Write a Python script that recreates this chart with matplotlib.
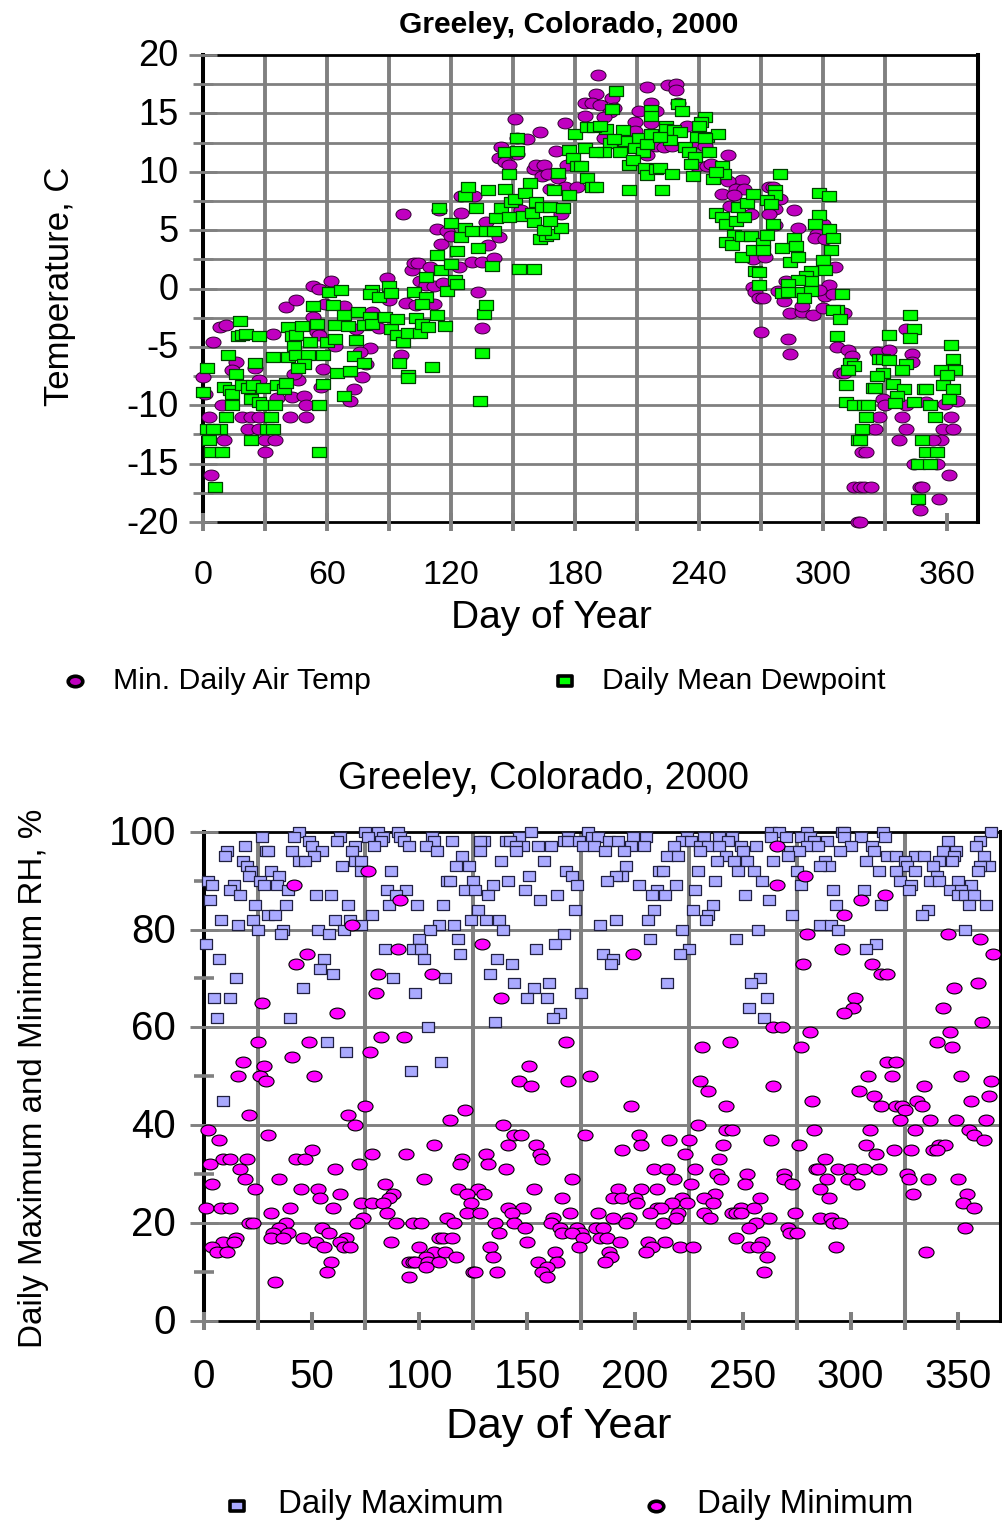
import numpy as np
import matplotlib
matplotlib.use('Agg')
import matplotlib.pyplot as plt
from matplotlib.lines import Line2D
from matplotlib.path import Path
from matplotlib.transforms import Affine2D, ScaledTranslation

plt.rcParams['font.family'] = ['Liberation Sans', 'DejaVu Sans']
plt.rcParams['axes.unicode_minus'] = False

# (day, deg C)
min_air = [(3.7,-16),(0,-7.6),(1,-9),(3,-11),(10,-13),(5,-4.6),(8,-3.3),(11,-3.1),(16,-6.3),(14,-7),(25,-6.8),
    (27,-7.8),(9,-10),(19,-11),(23,-11),(27,-11),(22,-12),(27,-12),(30,-13),(35,-13),(30,-14),(42,-11),(50,-11),
    (36,-9.4),(43,-9.3),(49,-9.2),(50,-10),(34,-3.9),(46,-7.8),(44,-7.3),(40,-1.6),(45,-1),(53,0.2),(56,0),(62,0.6),
    (59,-1.3),(68,-1.5),(53,-2.4),(55,-3.7),(56,-4),(64,-4.9),(58,-6.9),(81,-5.1),(76,-5.4),(79,-6.5),(77,-7.6),
    (73,-8.6),(71,-9.6),(57,-8.4),(96,-5.7),(89,0.9),(90,-1),(98,-1.2),(103,-1.4),(112,-1.3),(82,-2),(85,-3.4),
    (74,-3.5),(97,6.4),(101,1.6),(102,2.2),(104,2.2),(110,1.8),(105,0.6),(108,0.3),(112,0.2),(116,0.5),(124,1.8),
    (130,2.3),(135,2.3),(141,2.6),(138,3.7),(143,4.4),(137,5.7),(115,3.8),(113,5.1),(118,4.9),(120,4.5),(125,6.5),
    (125,7.9),(131,7.9),(133,-0.3),(135,-3.4),(114,6.7),(152,12.9),(157,12.8),(151,14.5),(163,13.4),(175,14.2),
    (144,12.1),(143,11.2),(152,11.5),(146,10.8),(148,10.6),(160,10.2),(161,10.6),(165,10.6),(164,9.6),(167,9.8),
    (172,9.5),(176,10.6),(171,11.8),(154,6.7),(173,6.4),(168,8.5),(175,8.7),(181,8.7),(185,15.9),(185,14.8),
    (191,18.3),(190,16.7),(188,15.9),(198,16.3),(192,15.7),(199,15.5),(197,15.1),(194,14.7),(215,17.3),(225,17.4),
    (229,17.5),(229,17),(217,15.9),(230,15.9),(211,15.2),(219,15.2),(209,14.3),(217,14.2),(209,13.5),(234,13.9),
    (194,12.9),(219,12.2),(223,12.1),(227,12.2),(215,11.4),(239,12.5),(243,12.2),(254,11.4),(239,10.5),(244,10.5),
    (246,10.7),(261,9.3),(251,9.6),(254,9.2),(258,8.5),(262,8.5),(251,8.1),(257,8),(255,7.1),(265,6.4),(274,8.7),
    (276,8.7),(279,7.7),(277,6.8),(274,6.4),(286,6.7),(277,5.4),(288,5.2),(297,4.7),(296,4.3),(300,5.5),(301,4.2),
    (266,2.5),(272,2.7),(306,1.8),(282,0.6),(278,-0.2),(266,0.1),(267,-0.3),(269,-0.8),(271,-0.8),(281,-1.1),
    (284,-2.1),(290,-2),(290,-1.5),(295,-2.3),(300,-1.7),(303,0.3),(301,-0.6),(305,-0.5),(298,-0.1),(310,-2.1),
    (270,-3.7),(283,-4.3),(284,-5.6),(307,-5),(312,-5.3),(314,-5.8),(308,-7.2),(310,-7.2),(326,-5.4),(332,-5.3),
    (343,-5.6),(343,-6.3),(340,-3.5),(329,-9.5),(330,-10),(340,-10),(350,-9.7),(359,-9.9),(365,-9.6),(327,-11),
    (338,-11),(362,-11),(325,-12),(340,-12),(358,-12),(363,-12),(337,-13),(357,-13),(353,-13),(319,-14),(321,-14),
    (344,-15),(355,-15),(361,-16),(315,-17),(318,-17),(320,-17),(323,-17),(347,-17),(348,-17),(356,-18),(347,-19),
    (317,-20),(318,-20)]

dewpoint = [(2,-6.8),(0,-8.9),(2,-12),(8,-12),(5,-12),(3,-13),(4,-14),(9,-14),(6,-17),(11,-11),(12,-5.7),(16,-7.3),
    (18,-2.8),(17,-4.1),(19,-4),(21,-3.9),(27,-4.1),(25,-6.4),(10,-8.4),(13,-8.7),(14,-9),(14,-10),(19,-8.3),
    (22,-8.5),(24,-8.3),(29,-8.5),(23,-9.5),(27,-9.7),(29,-10),(35,-10),(33,-11),(31,-12),(34,-12),(23,-13),(34,-5.9),
    (41,-5.9),(36,-8.3),(39,-8.6),(40,-8.1),(41,-3.3),(43,-4.1),(45,-4),(48,-3.2),(44,-4.9),(52,-4.6),(45,-5.7),
    (51,-5.7),(49,-6.5),(46,-6.8),(53,-1.5),(55,-3),(58,-5.7),(56,-10),(58,-8.2),(56,-14),(61,-0.3),(67,-0.1),
    (63,-1.4),(64,-3.1),(70,-3.2),(68,-2.3),(60,-4.6),(64,-4.3),(74,-4.4),(73,-5.8),(78,-6.4),(65,-7.2),(71,-7.1),
    (68,-9.2),(75,-2),(81,-2.4),(78,-3.1),(82,-3),(88,-2.4),(91,-3.5),(94,-2.6),(82,-0.1),(81,-0.5),(85,-0.7),
    (90,0.2),(91,-0.4),(102,-0.3),(108,-0.7),(106,-1.3),(108,1),(95,-6.4),(99,-7.4),(99,-7.7),(111,-6.7),(94,-4),
    (97,-4.6),(99,-3.8),(103,-2.5),(105,-3.8),(106,-3),(109,-3.3),(113,-2.3),(117,-3.2),(134,-9.6),(135,-5.5),
    (136,-2.2),(137,-1.4),(118,-0.2),(122,0.7),(123,0.4),(115,1.6),(120,2.1),(113,2.9),(114,6.9),(120,5.6),(127,5.2),
    (125,4.4),(130,4.9),(123,3.2),(133,3.5),(140,1.9),(137,4.9),(141,4.9),(132,6.9),(127,7.9),(128,8.7),(138,8.4),
    (146,8.5),(142,6),(144,6.9),(148,6.1),(149,7.4),(151,7.7),(155,6.2),(153,1.7),(160,1.7),(160,5.7),(159,6.5),
    (158,9),(156,8.2),(161,7.4),(164,7),(168,7),(174,6.9),(177,8),(170,8.4),(172,9.9),(152,12.9),(146,11.7),
    (152,11.8),(148,9.8),(163,4.2),(166,4.5),(169,4.7),(165,5),(173,5.2),(168,5.8),(180,13.2),(177,11.9),(179,11.2),
    (181,10.5),(183,10.5),(185,12),(186,13.8),(186,9.5),(188,8.7),(200,16.9),(198,15.4),(190,8.7),(195,13.7),
    (203,13.6),(189,13.8),(192,13.9),(211,12.9),(204,12.6),(197,12.5),(199,12.8),(194,11.7),(202,11.7),(190,11.7),
    (209,12),(213,11.7),(215,12.4),(217,13.2),(206,8.4),(222,8.4),(206,10.6),(208,11),(214,10.3),(215,9.7),(219,10.2),
    (221,10.3),(227,9.8),(237,9.6),(217,15.3),(217,14.8),(230,15.8),(232,15.2),(224,13.9),(224,13.7),(228,13.6),
    (231,13.4),(226,12.7),(221,13),(233,12.1),(235,11.7),(238,11.3),(236,10.7),(243,14.7),(241,14.3),(240,13.9),
    (239,13),(244,13),(249,13.2),(243,12.9),(245,11.7),(251,10.5),(252,9.8),(247,9.4),(248,10),(248,6.5),(251,6.1),
    (253,5.5),(258,5.8),(262,6.1),(259,7),(263,7.3),(266,8.1),(257,4.6),(253,4),(256,3.7),(261,2.7),(261,4.5),
    (265,4.5),(266,3.3),(271,3.9),(273,4.6),(271,3.3),(279,9.8),(277,8.4),(277,8),(273,7.6),(275,7.2),(276,5.5),
    (267,1.5),(269,1.4),(269,0.3),(280,3.5),(286,4.3),(287,3.6),(284,2.3),(288,2.7),(298,8.2),(303,7.9),(298,6.3),
    (296,5.5),(303,5.1),(305,4.3),(304,3.3),(300,2.4),(301,1.6),(294,1.5),(292,1.1),(294,0.6),(288,0.7),(283,0.4),
    (280,-0.4),(283,-0.3),(290,-0.3),(294,-0.2),(291,-0.8),(309,-0.5),(307,-1.8),(305,-1.8),(308,-2.6),(307,-4.1),
    (313,-6.4),(315,-6.6),(312,-7),(311,-8.3),(311,-9.7),(315,-10),(320,-10),(322,-10),(321,-11),(319,-12),(317,-13),
    (318,-13),(332,-4),(342,-2.3),(344,-3.5),(342,-4.2),(327,-6),(329,-6),(332,-6.1),(340,-6.5),(338,-7),(329,-7.2),
    (326,-7.5),(334,-8.2),(324,-8.5),(325,-8.5),(339,-8.6),(336,-9.2),(335,-9.8),(344,-9.7),(352,-10),(349,-8.6),
    (350,-8.6),(358,-8.3),(363,-8.6),(361,-9.5),(354,-11),(348,-13),(350,-14),(355,-14),(346,-15),(352,-15),(346,-18),
    (362,-4.8),(363,-6),(357,-7),(364,-7),(360,-7.4)]

# RH value -> days at that value, lower panel (RH was logged in whole percent)
rh_max = {100: [44,75,81,90,152,178,263,267,280,296,297,315,365],
    99: [27,42,63,76,83,91,106,146,169,180,183,199,205,224,232,239,245,263,270,277,281,297,305,316],
    98: [49,62,82,93,107,115,130,128,140,142,167,169,174,188,192,222,226,243,283,289,345,360],
    97: [19,50,70,79,95,103,148,145,155,161,176,181,198,204,218,230,234,239,249,256,280,285,300,310,358],
    96: [11,29,30,41,55,69,108,128,145,186,195,230,250,272,276,295,311,343,349],
    95: [10,51,120,215,220,242,271,317,321,330,334,348,362],
    94: [18,44,47,70,73,138,158,238,246,252,264,288,307,325,341,347],
    93: [20,64,117,123,196,290,286,326,338,364,360],
    92: [22,31,73,87,168,211,213,229,248,255,275,313,321,330,359],
    91: [21,35,151,171,194,191,340],
    90: [2,26,113,114,125,141,187,237,259,323,337,341,350],
    89: [4,14,28,34,134,173,202,219,277,328,356],
    88: [12,39,85,94,121,126,149,210,228,292,306,327,346,351],
    87: [17,52,59,89,132,164,208,214,251,350,353,357],
    86: [3,156,262],
    85: [24,38,67,86,99,111,236,293,314,355,363],
    84: [127,172,209,227,336],
    83: [30,33,78,234,273,333],
    82: [8,23,61,68,124,131,137,191,206,233],
    81: [16,73,109,116,184,286,291],
    80: [25,37,53,65,105,139,222,257,294,353],
    79: [36,58,167],
    78: [100,118,207,247],
    77: [1,163,312],
    76: [84,97,101,154,225,307],
    75: [119,185,221],
    74: [7,56,102,136,190],
    73: [143,189],
    72: [54],
    71: [60,133],
    70: [15,88,112,258],
    69: [144,160,215,254],
    68: [46,153],
    67: [98,175],
    66: [5,12,150,159,261],
    64: [253],
    63: [165],
    62: [6,40,162,260],
    61: [135],
    60: [104],
    57: [57],
    55: [66],
    53: [110],
    51: [96],
    45: [9]}

rh_min = {97: [266], 92: [76], 91: [279], 89: [42,266], 87: [316], 86: [91,305], 83: [297], 81: [69], 79: [280,345],
    78: [360], 77: [129], 76: [90,296], 75: [48,199,366], 73: [43,278,310], 71: [81,106,314,317], 69: [359], 68: [348],
    67: [80], 66: [138,302], 65: [27], 64: [301,343], 63: [62,297], 61: [361],
    60: [264,268], 59: [281,346], 58: [82,93], 57: [25,49,168,244,340], 56: [231,277,347], 55: [77], 54: [41],
    53: [18,317,321], 52: [28,151], 50: [16,26,51,179,308,319,351], 49: [29,146,169,230,365], 48: [152,264,334],
    47: [234,304], 46: [311,364], 45: [282,331,356], 44: [75,198,242,314,321,324,333], 43: [121,325],
    42: [21,67], 41: [114,323,337,349,363], 40: [70,139,229], 39: [2,242,245,283,309,330,355], 38: [30,144,147,177,202,357],
    37: [7,216,225,263,362], 36: [107,141,154,203,241,276,307,341,344], 35: [50,194,320,328,338,340],
    34: [78,94,131,156,312,223], 33: [20,9,12,43,47,120,157,239,288], 32: [3,72,119,132],
    31: [17,61,140,209,215,228,284,285,294,300,306,313], 30: [238,252,269,326],
    29: [19,35,102,171,218,240,269,289,299,327,336,350], 28: [4,84,226,251,273,303],
    27: [24,45,53,118,127,153,192,203,210,286], 26: [63,88,130,122,237,329,354], 25: [54,86,166,190,194,200,222,232,258,290],
    24: [73,78,83,124,201,217,224,236,352], 23: [1,8,12,40,60,141,148,210,212,249,255,357],
    22: [31,85,122,128,143,170,183,207,220,232,245,247,249,274], 21: [74,113,162,190,197,219,235,262,286,291],
    20: [21,23,38,71,89,97,101,116,135,144,161,196,213,256,292,295],
    19: [35,55,149,165,173,182,185,253,271,353], 18: [32,39,58,137,166,175,171,272,275],
    17: [15,31,37,46,66,109,111,115,176,184,187,247], 16: [9,14,52,63,87,150,193,206,214,259],
    15: [4,56,65,68,100,133,174,208,221,227,253,257,293], 14: [6,11,107,112,163,188,205,335],
    13: [103,117,134,189,261], 12: [95,97,98,104,109,59,155,164,186], 11: [103,159], 10: [57,125,126,136,157,260],
    9: [95,159], 8: [33]}

temp_days, temp_vals = np.array(min_air).T
dew_days, dew_vals = np.array(dewpoint).T

temp_xticks = [0, 60, 120, 180, 240, 300, 360]
temp_yticks = [-20, -15, -10, -5, 0, 5, 10, 15, 20]
rh_xticks = [0, 50, 100, 150, 200, 250, 300, 350]
rh_yticks = [0, 20, 40, 60, 80, 100]

W, H = 1002, 1521
GRAY = '#808080'
ellipse = Path.unit_circle().transformed(Affine2D().scale(1, 0.72))
box = Path([(-1, -0.74), (1, -0.74), (1, 0.74), (-1, 0.74), (-1, -0.74)], closed=True)


def px_axes(fig, left, top, right, bottom):
    return fig.add_axes([left / W, 1 - bottom / H, (right - left) / W, (bottom - top) / H])


def unpack(by_value):
    pairs = [(d, v) for v, days in by_value.items() for d in days]
    return np.array(pairs).T


def frame(ax, lw_side, lw_flat):
    ax.spines['left'].set_linewidth(lw_side)
    ax.spines['right'].set_linewidth(lw_side)
    ax.spines['top'].set_linewidth(lw_flat)
    ax.spines['bottom'].set_linewidth(lw_flat)
    for s in ax.spines.values():
        s.set_zorder(2)
    ax.set_axisbelow(False)


def legend_mark(fig, x, y, marker, size, color, edge, mew):
    fig.add_artist(Line2D([x / W], [1 - y / H], transform=fig.transFigure, marker=marker, ms=size,
                          mfc=color, mec=edge, mew=mew, ls='none'))


def px_text(fig, x, y, s, **kw):
    kw.setdefault('va', 'center')
    fig.text(x / W, 1 - y / H, s, **kw)


def nudge_ylabels(ax, fig, dy_px):
    for t in ax.get_yticklabels():
        t.set_transform(t.get_transform() + ScaledTranslation(0, dy_px / 100, fig.dpi_scale_trans))


fig = plt.figure(figsize=(W / 100, H / 100), dpi=100)

# upper panel
ax = px_axes(fig, 203, 55, 978, 522)
ax.set_xlim(0, 375)
ax.set_ylim(-20, 20)
frame(ax, 2.9, 2.0)
for d in range(30, 331, 30):
    ax.axvline(d, color=GRAY, lw=2.8, zorder=1)
for v in np.arange(-17.5, 20, 2.5):
    ax.axhline(v, color=GRAY, lw=2.0, zorder=1)
ax.set_xticks(temp_xticks)
ax.set_xticks([30, 90, 150, 210, 270, 330], minor=True)
ax.set_yticks(temp_yticks)
ax.set_yticks(np.arange(-17.5, 20, 5), minor=True)
ax.tick_params(axis='x', which='both', direction='inout', length=13, width=2.8, color=GRAY, labelsize=24.5, pad=20.5)
ax.tick_params(axis='y', which='major', direction='inout', length=19.5, width=2.0, color=GRAY, labelsize=26, pad=8)
ax.tick_params(axis='y', which='minor', direction='inout', length=15, width=2.0, color=GRAY)
nudge_ylabels(ax, fig, 2)
ax.scatter(temp_days, temp_vals, marker=ellipse, s=118, c='#C000C0', edgecolors='#30002f', linewidths=0.7,
           zorder=5, clip_on=False)
ax.scatter(dew_days, dew_vals, marker=box, s=112, c='#00FF00', edgecolors='#004000', linewidths=0.9,
           zorder=6, clip_on=False)
px_text(fig, 569, 25, 'Greeley, Colorado, 2000', ha='center', fontsize=21.6, fontweight='bold')
px_text(fig, 60, 286, 'Temperature, C', ha='center', rotation=90, fontsize=25)
px_text(fig, 551, 618, 'Day of Year', ha='center', fontsize=28)
legend_mark(fig, 75, 681, ellipse, 10.5, '#C000C0', 'black', 2.6)
px_text(fig, 113, 681, 'Min. Daily Air Temp', fontsize=21.8)
legend_mark(fig, 565, 681, box, 9.5, '#00FF00', 'black', 2.6)
px_text(fig, 602, 681, 'Daily Mean Dewpoint', fontsize=21.6)

# lower panel
ax2 = px_axes(fig, 203.7, 831.7, 1000.7, 1320.7)
ax2.set_xlim(0, 369.6)
ax2.set_ylim(0, 100)
frame(ax2, 2.9, 2.0)
for d in range(25, 326, 50):
    ax2.axvline(d, color=GRAY, lw=2.9, zorder=1)
for v in [20, 40, 60, 80]:
    ax2.axhline(v, color=GRAY, lw=2.1, zorder=1)
ax2.set_xticks(rh_xticks)
ax2.set_xticks(range(25, 326, 50), minor=True)
ax2.set_yticks(rh_yticks)
ax2.set_yticks(range(10, 100, 20), minor=True)
ax2.tick_params(axis='x', which='both', direction='inout', length=13, width=2.9, color=GRAY, labelsize=29, pad=20)
ax2.tick_params(axis='y', which='major', direction='inout', length=20, width=2.1, color=GRAY, labelsize=29, pad=10)
ax2.tick_params(axis='y', which='minor', direction='inout', length=15, width=2.6, color=GRAY)
nudge_ylabels(ax2, fig, 2)
rx, ry = unpack(rh_max)
ax2.scatter(rx, ry, marker=box, s=82, c='#AAAAFF', edgecolors='#202040', linewidths=0.9, zorder=5, clip_on=False)
nx, ny = unpack(rh_min)
ax2.scatter(nx, ny, marker=ellipse, s=118, c='#FF00FF', edgecolors='black', linewidths=0.8, zorder=6, clip_on=False)
px_text(fig, 544, 779, 'Greeley, Colorado, 2000', ha='center', fontsize=27.4)
px_text(fig, 34, 1078, 'Daily Maximum and Minimum RH, %', ha='center', rotation=90, fontsize=23.9)
px_text(fig, 559, 1427, 'Day of Year', ha='center', fontsize=31.3)
legend_mark(fig, 237, 1506, box, 9.5, '#AAAAFF', 'black', 2.6)
px_text(fig, 278, 1505, 'Daily Maximum', fontsize=23.8)
legend_mark(fig, 656, 1506, ellipse, 10.5, '#FF00FF', 'black', 2.6)
px_text(fig, 697, 1505, 'Daily Minimum', fontsize=23.8)

fig.savefig('out.png', dpi=100)
